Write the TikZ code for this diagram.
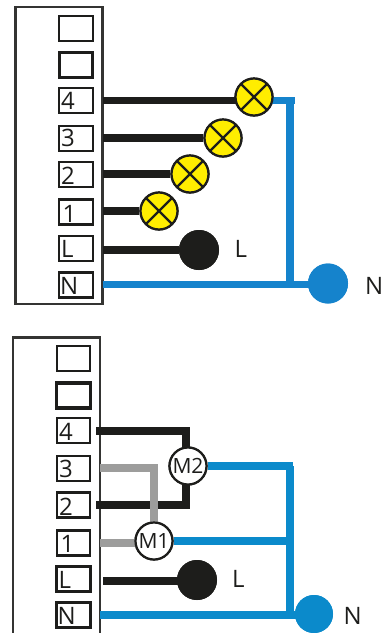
\documentclass[tikz,border=0pt]{standalone}
\usepackage{fontspec}
\setmainfont{Open Sans}
\definecolor{wireblack}{HTML}{1D1D1B}
\definecolor{wireblue}{HTML}{1583CC}
\definecolor{wireblueb}{HTML}{0B8ACB}
\definecolor{wiregray}{HTML}{9D9D9C}
\definecolor{lampyellow}{HTML}{FFED00}
\tikzset{
  panel/.style={draw=wireblack!90,line width=2.2pt,fill=white,inner sep=0pt,outer sep=0pt,anchor=north west},
  termbox/.style={draw=wireblack,line width=2.4pt,fill=white,minimum width=33.5pt,minimum height=25pt,inner sep=0pt,outer sep=0pt},
  termthick/.style={termbox,line width=3.2pt},
  termtext/.style={font=\fontsize{24}{24}\selectfont,text=wireblack,inner sep=0pt,anchor=base west},
  lamp/.style={circle,draw=wireblack,line width=2.2pt,fill=lampyellow,minimum size=37pt,inner sep=0pt,
    path picture={\draw[wireblack,line width=2.2pt]
      (path picture bounding box.north west) -- (path picture bounding box.south east)
      (path picture bounding box.north east) -- (path picture bounding box.south west);}},
  motor/.style={circle,draw=wireblack,line width=2.2pt,fill=white,minimum size=37pt,inner sep=0pt,text=wireblack,
    font=\fontsize{21}{21}\selectfont},
  dot/.style={circle,fill=#1,minimum size=40pt,inner sep=0pt},
  wire/.style={#1,line width=7.2pt},
  wire/.default=wireblack,
  sidetext/.style={font=\fontsize{24}{24}\selectfont,text=wireblack,inner sep=0pt},
}
\begin{document}
\begin{tikzpicture}[x=1pt,y=-1pt]
\useasboundingbox (0,0) rectangle (384,633);
% ---------- upper diagram
\node[panel,minimum width=87pt,minimum height=297pt] (PA) at (15.5,7) {};
\node[termbox] (Aa) at (76,28.5) {};
\node[termthick] (Ab) at (76,65) {};
\node[termbox] (A4) at (76,100.5) {};
\node[termbox] (A3) at (76,138.5) {};
\node[termbox] (A2) at (76,174.5) {};
\node[termbox] (A1) at (76,212) {};
\node[termbox] (AL) at (76,248.5) {};
\node[termbox] (AN) at (76,285) {};
\node[termtext] (A4t) at (61,109) {4};
\node[termtext] (A3t) at (61,146.5) {3};
\node[termtext] (A2t) at (61,184) {2};
\node[termtext] (A1t) at (62.5,222) {1};
\node[termtext] (ALt) at (61,257.5) {L};
\node[termtext] (ANt) at (60,294) {N};
\node[lamp] (L4) at (254,97) {};
\node[lamp] (L3) at (223,138) {};
\node[lamp] (L2) at (190,174) {};
\node[lamp] (L1) at (159,211) {};
\node[dot=wireblack] (DL) at (199,250) {};
\node[dot=wireblue] (DN) at (328,283.5) {};
\node[sidetext,anchor=base west] (TL) at (234.5,257.5) {L};
\node[sidetext,anchor=base west] (TN) at (365,294) {N};
\coordinate (Ab4) at (254,100.5);
\coordinate (Ac) at (295,100.5);
\coordinate (Ad) at (290,100.5);
\coordinate (An) at (328,284.5);
\draw[wire] (PA.east |- Ab4) -- (Ab4);
\draw[wire] (PA.east |- L3) -- (L3.west);
\draw[wire] (PA.east |- L2) -- (L2.west);
\draw[wire] (PA.east |- L1) -- (L1.west);
\draw[wire] (PA.east |- DL) -- (DL);
\draw[wire=wireblue] (Ab4) -- (Ac);
\draw[wire=wireblue] (Ad) -- (Ad |- An);
\draw[wire=wireblue] (PA.east |- An) -- (An);
\node[lamp] at (L4) {};
\node[lamp] at (L3) {};
\node[lamp] at (L2) {};
\node[lamp] at (L1) {};
\node[dot=wireblack] at (DL) {};
\node[dot=wireblue] at (DN) {};
% ---------- lower diagram
\node[panel,minimum width=87pt,minimum height=310pt] (PB) at (13,337.5) {};
\node[termbox] (Ba) at (73.5,358.5) {};
\node[termthick] (Bb) at (73.5,395.5) {};
\node[termbox] (B4) at (73.5,430.5) {};
\node[termbox] (B3) at (73.5,468.5) {};
\node[termbox] (B2) at (73.5,505) {};
\node[termbox] (B1) at (73.5,543) {};
\node[termthick] (BL) at (73.5,579) {};
\node[termthick] (BN) at (73.5,615) {};
\node[termtext] (B4t) at (59,440) {4};
\node[termtext] (B3t) at (59,477.5) {3};
\node[termtext] (B2t) at (59,515) {2};
\node[termtext] (B1t) at (60.5,552) {1};
\node[termtext] (BLt) at (58.5,588) {L};
\node[termtext] (BNt) at (57.5,624) {N};
\node[motor] (M2) at (188,466) {M2};
\node[motor] (M1) at (154,541) {M1};
\node[dot=wireblack] (EL) at (197,580) {};
\node[dot=wireblueb,minimum size=38pt] (EN) at (314,614) {};
\node[sidetext,anchor=base west] (SL) at (232,587.5) {L};
\node[sidetext,anchor=base west] (SN) at (343.5,624) {N};
\coordinate (Bt) at (186,431);
\coordinate (Bu) at (186,505);
\coordinate (Bg) at (154,468);
\coordinate (Bh) at (154,543);
\coordinate (Bl) at (197,581);
\coordinate (Bv) at (290,466);
\coordinate (Bn) at (314,615);
\draw[wire,line cap=rect] (PB.east |- Bt) -- (Bt) -- (Bt |- M2);
\draw[wire,line cap=rect] (PB.east |- Bu) -- (Bu) -- (Bu |- M2);
\draw[wire=wiregray] (PB.east |- Bg) -- (Bg) -- (Bh);
\draw[wire=wiregray] (PB.east |- Bh) -- (Bh);
\draw[wire] (103,581) -- (Bl);
\draw[wire=wireblueb] (M2) -- (293,466);
\draw[wire=wireblueb] (M1) -- (293,541);
\draw[wire=wireblueb] (Bv) -- (Bv |- Bn);
\draw[wire=wireblueb] (PB.east |- Bn) -- (Bn);
\node[motor] at (M2) {M2};
\node[motor] at (M1) {M1};
\node[dot=wireblack] at (EL) {};
\node[dot=wireblueb,minimum size=38pt] at (EN) {};
\end{tikzpicture}
\end{document}
